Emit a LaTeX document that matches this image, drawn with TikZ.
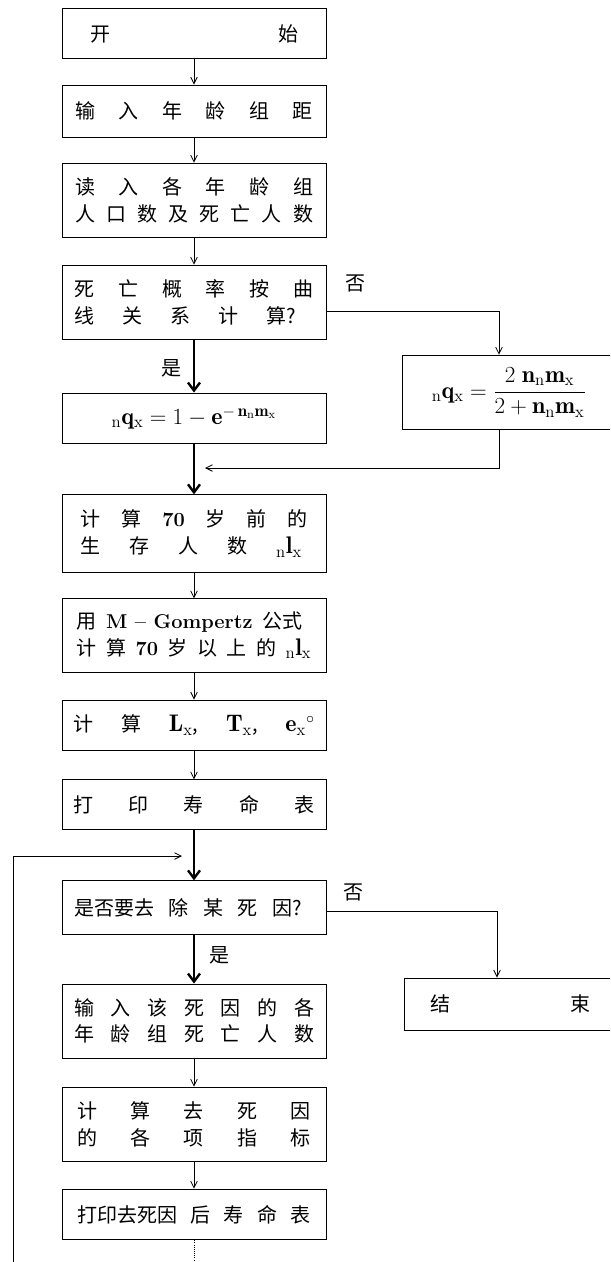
\documentclass[tikz,border=0pt]{standalone}
\usepackage{fontspec}
\newfontfamily\cjk{Noto Sans CJK SC}
\usetikzlibrary{arrows.meta}

\newcommand{\spreadbox}[2]{\hbox to #1{#2}}
\newcommand{\latin}[1]{{\rmfamily\bfseries #1}}
\newcommand{\mathpiece}[1]{{\fontsize{18}{20}\selectfont$#1$}}
\newcommand{\nlx}{\mathpiece{{}_{\mathrm{n}}\mathbf{l}_{\mathrm{x}}}}
\newcommand{\nmx}{\mathbf{n}_{\mathrm{n}}\mathbf{m}_{\mathrm{x}}}

\tikzset{
  box/.style={draw, line width=0.7pt, minimum width=198pt, inner sep=0pt, align=center,
    font=\cjk\fontsize{15}{20}\selectfont},
  formula/.style={font=\fontsize{18}{22}\selectfont},
  flow/.style={line width=0.6pt, -{Straight Barb[length=5pt,width=5pt]}},
  boldflow/.style={line width=1.8pt, -{Straight Barb[length=6pt,width=9pt]}},
  lbl/.style={inner sep=0pt, font=\cjk\fontsize{15}{17}\selectfont}
}

\begin{document}
\begin{tikzpicture}[x=0.75pt,y=0.75pt,yscale=-1,xscale=1]
\useasboundingbox (0,0) rectangle (610,1262);
\clip (0,0) rectangle (610,1262);

%Main column
\node[box, minimum height=38pt] (start) at (194,33.5) {\spreadbox{156pt}{开\hfil 始}};
\node[box, minimum height=39pt] (agegap) at (194,111) {\spreadbox{178pt}{输\hfil 入\hfil 年\hfil 龄\hfil 组\hfil 距}};
\node[box, minimum height=56pt] (readin) at (194,200.5) {\spreadbox{178.5pt}{读\hfil 入\hfil 各\hfil 年\hfil 龄\hfil 组}\\ \spreadbox{178.5pt}{人\hfil 口\hfil 数\hfil 及\hfil 死\hfil 亡\hfil 人\hfil 数}};
\node[box, minimum height=56pt] (curve) at (194,302.5) {\spreadbox{179pt}{死\hfil 亡\hfil 概\hfil 率\hfil 按\hfil 曲}\\ \spreadbox{179pt}{线\hfil 关\hfil 系\hfil 计\hfil 算?\hspace*{13pt}}};
\node[box, formula, minimum height=37.5pt] (qleft) at (194,418) {${}_{\mathrm{n}}\mathbf{q}_{\mathrm{x}} = 1 - \mathbf{e}^{-\,\nmx}$};
\node[box, minimum height=58pt] (survive) at (194,533.5) {\spreadbox{170pt}{计\hfil 算\hfil \latin{70}\hfil 岁\hfil 前\hfil 的}\\ \spreadbox{170pt}{生\hfil 存\hfil 人\hfil 数\hfil \nlx\hspace*{4pt}}};
\node[box, minimum height=55pt] (gompertz) at (194,635.5) {\spreadbox{176pt}{用\hfil \latin{M -- Gompertz}\hfil 公式\hspace*{7pt}}\\ \spreadbox{176pt}{计\hfil 算\hfil \latin{70}\hfil 岁\hfil 以\hfil 上\hfil 的\hfil \nlx}};
\node[box, minimum height=37.5pt] (calc) at (194,725) {\spreadbox{181pt}{计\hfil 算\hfil \mathpiece{\mathbf{L}_{\mathrm{x}}},\hfil \mathpiece{\mathbf{T}_{\mathrm{x}}},\hfil \mathpiece{\mathbf{e}_{\mathrm{x}}{}^{\circ}}}};
\node[box, minimum height=37pt] (print) at (194,804.5) {\spreadbox{181pt}{打\hfil 印\hfil 寿\hfil 命\hfil 表}};
\node[box, minimum height=40pt] (remove) at (194,907.5) {\spreadbox{180pt}{是否要去\hfil 除\hfil 某\hfil 死\hfil 因?\hspace*{9pt}}};
\node[box, minimum height=55.5pt] (inputd) at (194,1021) {\spreadbox{180pt}{输\hfil 入\hfil 该\hfil 死\hfil 因\hfil 的\hfil 各}\\ \spreadbox{180pt}{年\hfil 龄\hfil 组\hfil 死\hfil 亡\hfil 人\hfil 数}};
\node[box, minimum height=56pt] (calcd) at (194,1124.5) {\spreadbox{175pt}{计\hfil 算\hfil 去\hfil 死\hfil 因}\\ \spreadbox{175pt}{的\hfil 各\hfil 项\hfil 指\hfil 标}};
\node[box, minimum height=38pt] (printd) at (194,1214.5) {\spreadbox{175pt}{打印去死因\hfil 后\hfil 寿\hfil 命\hfil 表}};

%Right column
\node[box, formula, minimum width=160.5pt, minimum height=56pt] (qright) at (509,392.5) {${}_{\mathrm{n}}\mathbf{q}_{\mathrm{x}} = \displaystyle\frac{2\;\nmx}{2+\nmx}$};
\node[box, minimum width=159pt, minimum height=39pt] (stop) at (510,1004) {\spreadbox{120pt}{结\hfil 束}};

% Text Node
\node[lbl] (no1) at (355,283) {否};
\node[lbl] (yes1) at (171,368) {是};
\node[lbl] (no2) at (353,892) {否};
\node[lbl] (yes2) at (219,955) {是};

\coordinate (join) at (205,468);
\coordinate (loopin) at (182,856);
\coordinate (loopback) at (13,1262);
\coordinate (loopout) at (194,1262);

%Connectors
\draw[flow] (start) -- (agegap);
\draw[flow] (agegap) -- (readin);
\draw[flow] (readin) -- (curve);
\draw[boldflow] (curve) -- (qleft);
\draw[boldflow] (qleft) -- (survive);
\draw[flow] (survive) -- (gompertz);
\draw[flow] (gompertz) -- (calc);
\draw[flow] (calc) -- (print);
\draw[boldflow] (print) -- (remove);
\draw[boldflow] (remove) -- (inputd);
\draw[flow] (inputd) -- (calcd);
\draw[flow] (calcd) -- (printd);
\draw[flow] ([yshift=7pt]curve.east) -| ([xshift=-7.5pt]qright.north);
\draw[flow] ([xshift=-7.5pt]qright.south) |- (join);
\draw[flow] ([yshift=2.6pt]remove.east) -| ([xshift=-9.75pt]stop.north);
\draw[line width=0.6pt, densely dotted] (printd) -- (loopout);
\draw[flow] (loopback) |- (loopin);
\end{tikzpicture}
\end{document}
